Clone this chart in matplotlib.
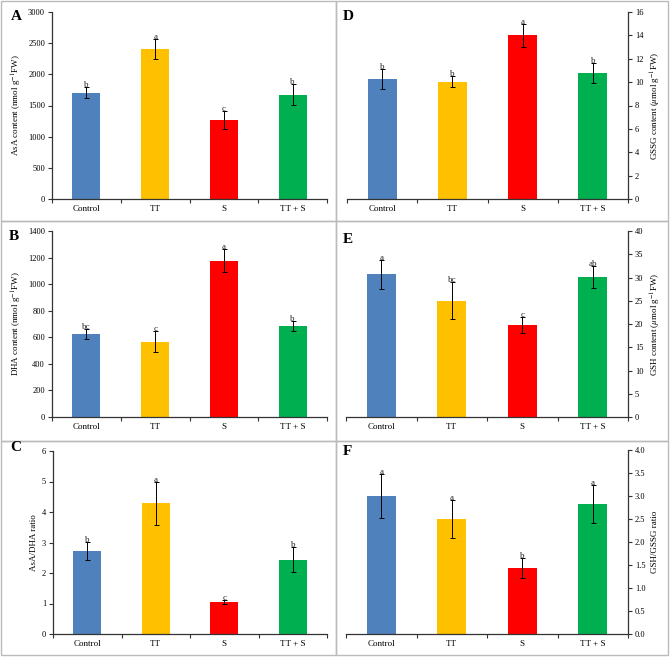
# AsA / DHA / GSH / GSSG panels, six bar charts with error bars

import matplotlib.pyplot as plt
from matplotlib.patches import Rectangle
import numpy as np

plt.rcParams['font.family'] = ['Liberation Serif', 'DejaVu Serif']
plt.rcParams['mathtext.fontset'] = 'stix'

groups = ['Control', 'TT', 'S', 'TT + S']
colors = ['#4F81BD', '#FFC000', '#FF0000', '#00B050']

asa = [1705, 2400, 1262, 1675]
asa_err = [92, 160, 142, 172]
asa_sig = ['b', 'a', 'c', 'b']

dha = [622, 568, 1175, 688]
dha_err = [38, 80, 86, 38]
dha_sig = ['bc', 'c', 'a', 'b']

asa_dha = [2.73, 4.28, 1.06, 2.44]
asa_dha_err = [0.30, 0.71, 0.07, 0.41]
asa_dha_sig = ['b', 'a', 'c', 'b']

gssg = [10.3, 10.02, 14.0, 10.76]
gssg_err = [0.86, 0.47, 0.96, 0.85]
gssg_sig = ['b', 'b', 'a', 'b']

gsh = [30.7, 25.0, 19.7, 30.1]
gsh_err = [3.1, 3.95, 1.7, 2.4]
gsh_sig = ['a', 'bc', 'c', 'ab']

gsh_gssg = [3.0, 2.5, 1.43, 2.83]
gsh_gssg_err = [0.48, 0.42, 0.22, 0.41]
gsh_gssg_sig = ['a', 'a', 'b', 'a']

W, H = 671, 660


def frac(left, right, top, bottom):
    return [left / W, 1 - bottom / H, (right - left) / W, (bottom - top) / H]


def bar_panel(fig, rect, vals, errs, sig, ymax, ystep, ylabel, right=False,
              fmt=None):
    ax = fig.add_axes(rect)
    x = np.arange(len(groups))
    ax.bar(x, vals, width=0.41, color=colors, zorder=2)
    ax.errorbar(x, vals, yerr=errs, fmt='none', ecolor='black',
                elinewidth=0.7, capsize=1.8, capthick=0.7, zorder=3)
    for xi, v, e, s in zip(x, vals, errs, sig):
        ax.text(xi, v + e, s, ha='center', va='baseline', fontsize=6.5,
                color='#222222', zorder=4)
    ax.set_xlim(-0.5, len(groups) - 0.5)
    ax.set_ylim(0, ymax)
    ax.set_yticks(np.arange(0, ymax + ystep / 2, ystep))
    if fmt:
        ax.set_yticklabels([fmt.format(t) for t in ax.get_yticks()])
    ax.set_xticks(np.arange(-0.5, len(groups)))
    ax.set_xticklabels([])
    ax.set_xticks(x, minor=True)
    ax.set_xticklabels(groups, minor=True, fontsize=6.5)
    ax.tick_params(axis='x', which='major', length=3, width=0.8,
                   color='#333333')
    ax.tick_params(axis='x', which='minor', length=0, pad=4)
    ax.tick_params(axis='y', labelsize=6, length=3, width=0.8,
                   color='#333333', pad=2)
    for sp in ['top']:
        ax.spines[sp].set_visible(False)
    if right:
        ax.spines['left'].set_visible(False)
        ax.yaxis.tick_right()
        ax.yaxis.set_label_position('right')
        ax.set_ylabel(ylabel, fontsize=6.5, rotation=90, labelpad=4)
    else:
        ax.spines['right'].set_visible(False)
        ax.set_ylabel(ylabel, fontsize=6.5, labelpad=3)
    for sp in ['left', 'right', 'bottom']:
        ax.spines[sp].set_linewidth(0.9)
        ax.spines[sp].set_color('#333333')
    return ax


fig = plt.figure(figsize=(W / 100, H / 100), dpi=100)

# panel frames
for x0, x1 in [(1, 336), (336, 668)]:
    for y0, y1 in [(1, 221), (221, 441), (441, 655)]:
        fig.add_artist(Rectangle((x0 / W, 1 - y1 / H), (x1 - x0) / W,
                                 (y1 - y0) / H, transform=fig.transFigure,
                                 fill=False, edgecolor='#BBBBBB', lw=1.0))

bar_panel(fig, frac(52, 327, 12, 199), asa, asa_err, asa_sig, 3000, 500,
          r'AsA content (nmol g$^{-1}$FW)')
bar_panel(fig, frac(52, 327, 231, 417), dha, dha_err, dha_sig, 1400, 200,
          r'DHA content (nmol g$^{-1}$FW)')
bar_panel(fig, frac(53, 327, 451, 634), asa_dha, asa_dha_err, asa_dha_sig,
          6, 1, 'AsA/DHA ratio')
bar_panel(fig, frac(347, 628, 12, 199), gssg, gssg_err, gssg_sig, 16, 2,
          r'GSSG content ($\mu$mol g$^{-1}$FW)', right=True)
bar_panel(fig, frac(346, 628, 231, 417), gsh, gsh_err, gsh_sig, 40, 5,
          r'GSH content ($\mu$mol g$^{-1}$FW)', right=True)
bar_panel(fig, frac(346, 628, 450, 634), gsh_gssg, gsh_gssg_err,
          gsh_gssg_sig, 4.0, 0.5, 'GSH/GSSG ratio', right=True,
          fmt='{:.1f}')

# panel letters
for lab, px, py in [('A', 11, 20), ('B', 9, 240), ('C', 10, 451),
                    ('D', 343, 20), ('E', 343, 243), ('F', 343, 455)]:
    fig.text(px / W, 1 - py / H, lab, fontsize=11, fontweight='bold',
             ha='left', va='baseline')

fig.savefig('out.png', dpi=100)
